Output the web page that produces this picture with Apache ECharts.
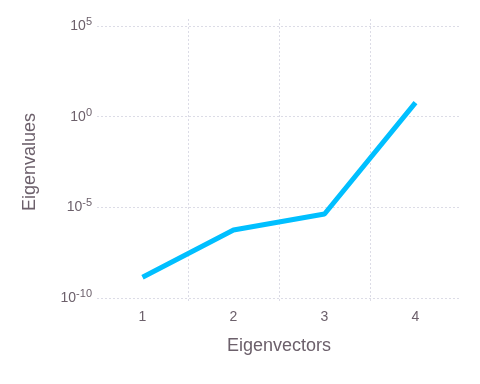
<!DOCTYPE html>
<html><head><meta charset="utf-8">
<script src="https://cdn.jsdelivr.net/npm/echarts@6/dist/echarts.min.js"></script>
<style>html,body{margin:0;padding:0;background:#fff}#c{width:480px;height:384px}</style>
</head><body><div id="c"></div>
<script>
var categories = ['1', '2', '3', '4'];
var eigenvalues = [1.4e-9, 5.6e-7, 4.3e-6, 5.9];
var yMin = 1e-10, yMax = 1e5, yStepDecades = 5;
var xName = 'Eigenvectors', yName = 'Eigenvalues';

var font = '"Liberation Sans", Arial, Helvetica, sans-serif';
var labelColor = '#6c606b';
var gridColor = '#dcdce6';
var chart = echarts.init(document.getElementById('c'), null, {renderer: 'canvas'});
chart.setOption({
  animation: false,
  backgroundColor: '#fff',
  grid: [
    {left: 97, right: 19, top: 19, bottom: 81, show: false},
    {left: 97, right: 19, top: 26, bottom: 86, show: false}
  ],
  xAxis: [
    {gridIndex: 0, type: 'category', data: categories, boundaryGap: true,
     axisLine: {show: false}, axisTick: {show: false}, axisLabel: {show: false},
     splitLine: {show: true, showMinLine: false, showMaxLine: false,
       lineStyle: {color: gridColor, type: [2, 2], width: 1}}},
    {gridIndex: 1, type: 'category', data: categories, boundaryGap: true,
     name: xName, nameLocation: 'middle', nameGap: 39,
     nameTextStyle: {color: labelColor, fontSize: 18, fontFamily: font},
     axisLine: {show: false}, axisTick: {show: false},
     axisLabel: {color: labelColor, fontSize: 14, fontFamily: font, margin: 12},
     splitLine: {show: false}}
  ],
  yAxis: [
    {gridIndex: 0, type: 'value', show: false, splitLine: {show: false}},
    {gridIndex: 1, type: 'log', logBase: 10, min: yMin, max: yMax, interval: yStepDecades,
     name: yName, nameLocation: 'middle', nameGap: 58, nameRotate: 90,
     nameTextStyle: {color: labelColor, fontSize: 18, fontFamily: font},
     axisLine: {show: false}, axisTick: {show: false},
     axisLabel: {color: labelColor, fontSize: 14, fontFamily: font, margin: 5,
       formatter: function (v) { return '10{sup|' + Math.round(Math.log10(v)) + '}'; },
       rich: {sup: {fontSize: 11, color: labelColor, fontFamily: font, padding: [0, 0, 8, 0]}}},
     splitLine: {show: true, lineStyle: {color: gridColor, type: [2, 2], width: 1}}}
  ],
  series: [{
    type: 'line', xAxisIndex: 1, yAxisIndex: 1, data: eigenvalues,
    symbol: 'none', lineStyle: {color: '#00bfff', width: 5}, itemStyle: {color: '#00bfff'}
  }]
});
</script></body></html>
